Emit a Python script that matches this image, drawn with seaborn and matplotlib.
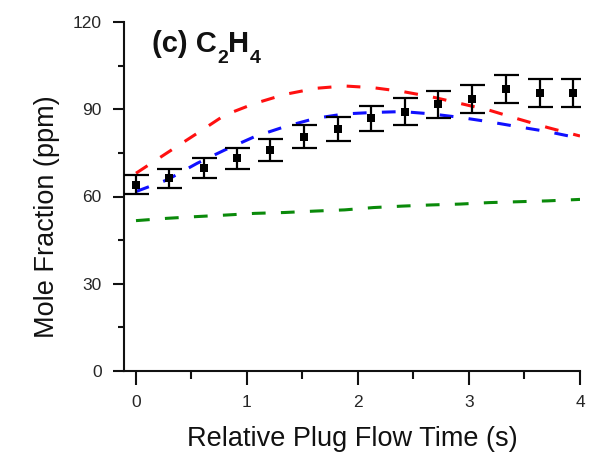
import numpy as np
import pandas as pd
import matplotlib
matplotlib.use("Agg")
import matplotlib.pyplot as plt
import seaborn as sns
from matplotlib.ticker import MultipleLocator

# ---- data ----
exp_time = [0.0, 0.30, 0.61, 0.91, 1.21, 1.51, 1.82, 2.12, 2.42, 2.72, 3.03, 3.33, 3.64, 3.94]
exp_ppm = [64.0, 66.2, 69.9, 73.1, 76.0, 80.6, 83.2, 86.9, 89.2, 91.7, 93.5, 96.9, 95.5, 95.7]
exp_err = [3.3, 3.3, 3.5, 3.7, 3.8, 4.0, 4.2, 4.3, 4.5, 4.6, 4.7, 4.9, 4.8, 4.8]

model_time = [0.0, 0.28, 0.55, 0.80, 1.07, 1.34, 1.62, 1.88, 2.14, 2.40, 2.66, 2.92, 3.18, 3.44, 3.71, 4.0]
red_ppm = [68.0, 75.0, 81.7, 88.0, 92.0, 95.1, 97.2, 98.0, 97.4, 96.1, 94.3, 92.0, 89.7, 86.7, 83.7, 80.8]
blue_ppm = [61.7, 65.7, 71.4, 76.0, 80.6, 84.0, 86.9, 88.4, 88.9, 89.2, 88.4, 87.2, 85.7, 84.0, 82.3, 80.0]
green_ppm = [51.7, 52.5, 53.1, 53.6, 54.2, 54.5, 55.0, 55.4, 56.2, 56.7, 57.1, 57.4, 57.9, 58.2, 58.5, 59.0]

x_ticks = [0, 1, 2, 3, 4]
y_ticks = [0, 30, 60, 90, 120]

title_parts = [("(c) C", False), ("2", True), ("H", False), ("4", True)]

sns.set_style("ticks")
plt.rcParams["font.family"] = ["Liberation Sans", "DejaVu Sans"]

W, H = 597, 462
fig = plt.figure(figsize=(W / 100, H / 100), dpi=100)
ax = fig.add_axes([124 / W, 1 - 371 / H, (580 - 124) / W, (371 - 22) / H])

models = pd.DataFrame({"t": model_time, "red": red_ppm, "blue": blue_ppm, "green": green_ppm})
dash = (0, (4.5, 5.0))
for col, colr in [("red", "#ff1010"), ("blue", "#1010ff"), ("green", "#0a8a0a")]:
    sns.lineplot(data=models, x="t", y=col, ax=ax, color=colr, linewidth=2.2,
                 linestyle=dash, zorder=2)

exp = pd.DataFrame({"t": exp_time, "ppm": exp_ppm, "err": exp_err})
ax.errorbar(exp["t"], exp["ppm"], yerr=exp["err"], fmt="none", ecolor="black",
            elinewidth=1.6, capsize=9, capthick=1.6, zorder=3)
sns.scatterplot(data=exp, x="t", y="ppm", ax=ax, marker="s", s=40, color="black",
                edgecolor="black", linewidth=0, zorder=4)

ax.set_xlim(-0.108, 4.0)
ax.set_ylim(0, 120)
ax.set_xticks(x_ticks)
ax.set_yticks(y_ticks)
ax.xaxis.set_minor_locator(MultipleLocator(0.5))
ax.yaxis.set_minor_locator(MultipleLocator(15))

for s in ["top", "right"]:
    ax.spines[s].set_visible(False)
for s in ["left", "bottom"]:
    ax.spines[s].set_linewidth(1.5)
    ax.spines[s].set_color("#111111")

ax.tick_params(axis="x", which="major", length=10, width=1.5, labelsize=12.5, pad=7, color="#111111")
ax.tick_params(axis="x", which="minor", length=6, width=1.5, color="#111111")
ax.tick_params(axis="y", which="major", length=8, width=1.5, labelsize=12.5, pad=8, color="#111111")
ax.tick_params(axis="y", which="minor", length=4.5, width=1.5, color="#111111")

ax.set_xlabel("Relative Plug Flow Time (s)", fontsize=19.5, labelpad=12, color="#111111")
ax.set_ylabel("Mole Fraction (ppm)", fontsize=19.5, color="#111111")
ax.yaxis.set_label_coords(-0.14, 0.441)

# title with lowered subscripts
fig.canvas.draw()
renderer = fig.canvas.get_renderer()
x_px, base_px = 152, 52
for txt, is_sub in title_parts:
    y_px = base_px + (11 if is_sub else 0)
    t = fig.text(x_px / W, 1 - y_px / H, txt, fontsize=14 if is_sub else 21,
                 fontweight="bold", ha="left", va="baseline", color="#111111")
    bb = t.get_window_extent(renderer)
    x_px = bb.x1 + 0.5

fig.savefig("out.png", dpi=100)
